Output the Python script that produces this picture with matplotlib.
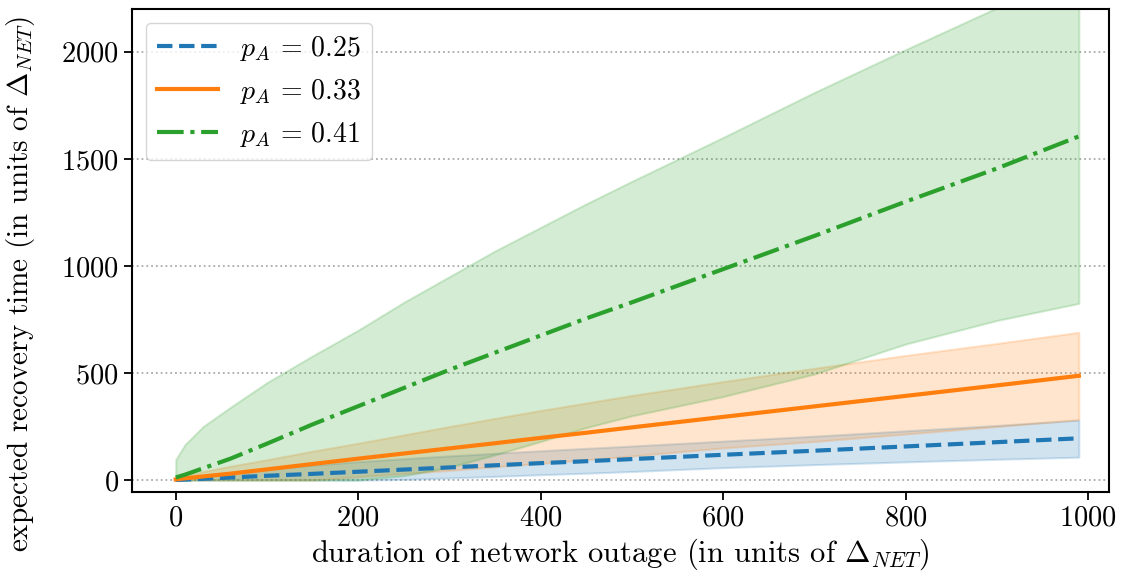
import numpy as np
import matplotlib
matplotlib.use("Agg")
import matplotlib.pyplot as plt

plt.rcParams['font.family'] = 'serif'
plt.rcParams['font.serif'] = ['cmr10']
plt.rcParams['mathtext.fontset'] = 'cm'
plt.rcParams['axes.formatter.use_mathtext'] = True
plt.rcParams['axes.unicode_minus'] = False

# outage durations (units of Delta_NET)
x = [0, 10, 30, 60, 100, 150, 200, 250, 300, 350, 400, 450, 500, 600, 700, 800, 900, 990]

# p_A = 0.25
mean_025 = [1, 2, 6, 12, 20, 29, 39, 49, 59, 69, 79, 88, 98, 118, 137, 157, 177, 195]
upper_025 = [2, 8, 20, 35, 52, 70, 86, 100, 113, 125, 137, 148, 159, 182, 205, 230, 255, 280]
lower_025 = [0, 0, 0, 0, 0, 0, 0, 3, 10, 17, 25, 32, 40, 58, 72, 85, 97, 107]

# p_A = 0.33
mean_033 = [3, 8, 17, 30, 50, 75, 100, 124, 148, 172, 197, 221, 246, 295, 344, 393, 442, 487]
upper_033 = [5, 20, 40, 65, 95, 135, 172, 211, 250, 288, 325, 360, 395, 460, 522, 582, 638, 690]
lower_033 = [0, 0, 0, 0, 0, 0, 15, 30, 45, 62, 78, 95, 112, 150, 180, 215, 250, 282]

# p_A = 0.41
mean_041 = [12, 25, 55, 100, 170, 260, 345, 430, 515, 595, 675, 755, 830, 985, 1140, 1300, 1455, 1605]
upper_041 = [95, 165, 250, 340, 455, 580, 700, 830, 950, 1070, 1180, 1290, 1395, 1600, 1810, 2010, 2205, 2390]
lower_041 = [0, 0, 0, 0, 0, 0, 0, 20, 60, 118, 180, 245, 300, 390, 495, 635, 745, 825]

labels = [r'$p_A\,=\,0.25$', r'$p_A\,=\,0.33$', r'$p_A\,=\,0.41$']

fig = plt.figure(figsize=(11.24, 5.8), dpi=100)
ax = fig.add_axes([0.1174, 0.152, 0.8692, 0.8325])

series = [(mean_025, upper_025, lower_025, '#1f77b4', '--'),
          (mean_033, upper_033, lower_033, '#ff7f0e', '-'),
          (mean_041, upper_041, lower_041, '#2ca02c', '-.')]

for (m, up, lo, c, ls), lab in zip(series, labels):
    ax.fill_between(x, lo, up, color=c, alpha=0.2, linewidth=1.5)
    ax.plot(x, m, color=c, linestyle=ls, linewidth=3, label=lab)

ax.set_xlim(-48, 1023)
ax.set_ylim(-55, 2200)
ax.set_yticks([0, 500, 1000, 1500, 2000])
ax.set_xticks([0, 200, 400, 600, 800, 1000])
ax.yaxis.grid(True, linestyle=':', color='#aaaaaa', linewidth=1.3)
ax.set_axisbelow(True)

ax.tick_params(labelsize=20.5, length=6, width=1.3, direction='out')
for s in ax.spines.values():
    s.set_linewidth(1.5)

ax.set_xlabel(r'duration of network outage (in units of $\Delta_{NET}$)', fontsize=22, labelpad=4)
ax.set_ylabel(r'expected recovery time (in units of $\Delta_{NET}$)', fontsize=21)
ax.yaxis.set_label_coords(-0.097, 0.43)

ax.legend(loc='upper left', fontsize=20, handlelength=2.2, framealpha=0.8)

plt.savefig('out.png', dpi=100)
